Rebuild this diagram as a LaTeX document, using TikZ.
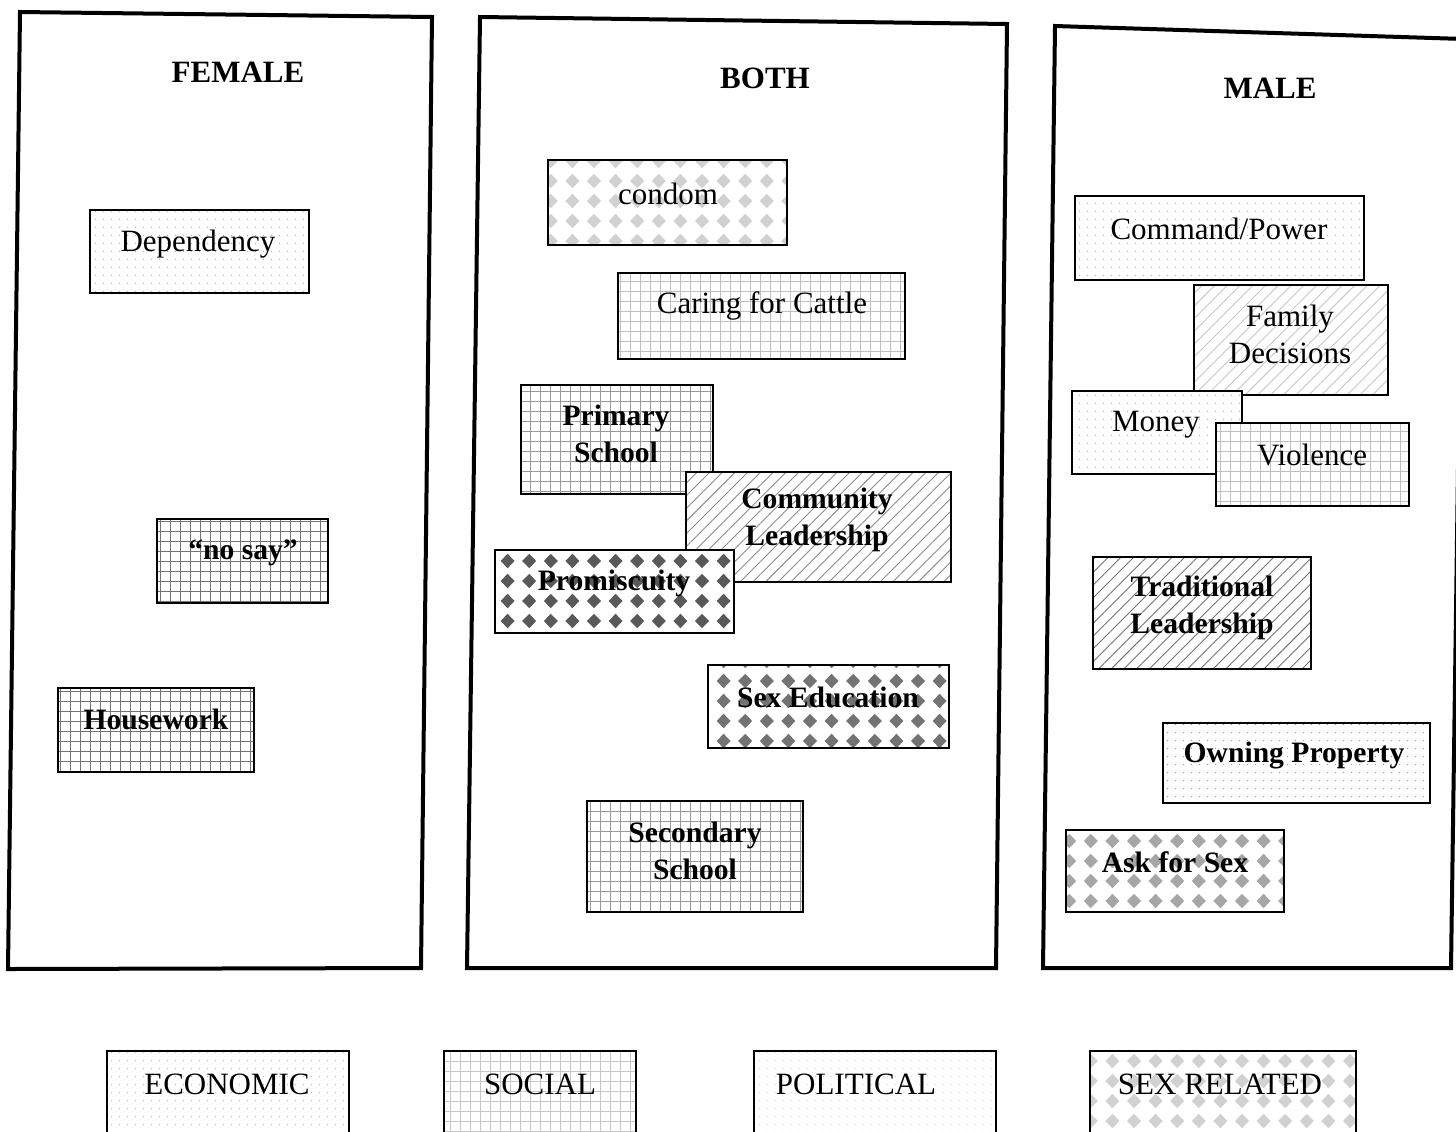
\documentclass[tikz,border=0pt]{standalone}
\usepackage{fontspec}
\setmainfont{Liberation Serif}
\usetikzlibrary{patterns,patterns.meta}

% diamond tiling used for the sex-related category
\pgfdeclarepatternformonly{diamonds}{\pgfqpoint{-1pt}{-1pt}}{\pgfqpoint{12pt}{11pt}}{\pgfqpoint{10.8pt}{10pt}}{%
  \pgfpathmoveto{\pgfqpoint{5.4pt}{1.4pt}}%
  \pgfpathlineto{\pgfqpoint{8.9pt}{5pt}}%
  \pgfpathlineto{\pgfqpoint{5.4pt}{8.6pt}}%
  \pgfpathlineto{\pgfqpoint{1.9pt}{5pt}}%
  \pgfpathclose
  \pgfusepath{fill}%
}

\tikzset{
  panel/.style={line width=2pt, line join=miter},
  heading/.style={font=\fontsize{15.5}{18}\selectfont\bfseries, inner sep=0pt},
  txt/.style={font=\fontsize{15.5}{18.5}\selectfont, align=center, inner sep=0pt},
  txtb/.style={font=\fontsize{14.8}{18.5}\selectfont\bfseries, align=center, inner sep=0pt},
  ibox/.style={draw, line width=1.2pt, inner sep=0pt, preaction={fill=white}},
  econ/.style={ibox, pattern={Dots[distance=4pt,radius=0.35pt]}, pattern color=#1},
  econ/.default=black!35,
  social/.style={ibox, pattern={Hatch[distance=5pt,line width=0.35pt]}, pattern color=#1},
  social/.default=black!40,
  political/.style={ibox, pattern={Lines[angle=45,distance=4.5pt,line width=0.45pt]}, pattern color=#1},
  political/.default=black!45,
  sexrel/.style={ibox, pattern=diamonds, pattern color=#1},
  sexrel/.default=black!55,
  legendbox/.style={line width=1pt},
}

% box from its corner coordinates: name, style, x1, y1, x2, y2
\newcommand\catbox[6]{%
  \pgfmathsetmacro\cbw{(#5-#3)*0.5}%
  \pgfmathsetmacro\cbh{(#6-#4)*0.5}%
  \pgfmathsetmacro\cbx{(#3+#5)/2}%
  \pgfmathsetmacro\cby{(#4+#6)/2}%
  \node[#2, minimum width=\cbw pt, minimum height=\cbh pt] (#1) at (\cbx,\cby) {};%
}

\begin{document}
\begin{tikzpicture}[x=0.5pt, y=-0.5pt]
\useasboundingbox (0,0) rectangle (1456,1131);
\clip (0,0) rectangle (1456,1131);

% the three columns
\draw[panel] (20,12) -- (432,17) -- (421,968) -- (8,969) -- cycle;
\draw[panel] (480,17) -- (1007,24) -- (996,968) -- (467,968) -- cycle;
\draw[panel] (1464,39) -- (1055,26) -- (1043,968) -- (1451,968) -- (1464,39);

\node[heading] (hf) at (238,72) {FEMALE};
\node[heading] (hb) at (765,78) {BOTH};
\node[heading] (hm) at (1270,88) {MALE};

% FEMALE
\catbox{dep}{econ}{90}{210}{309}{293}
\node[txt] (dept) at (198,244) {Dependency};
\catbox{nosay}{social=black!55}{157}{519}{328}{603}
\node[txtb] (nosayt) at (243,553) {``no say''};
\catbox{house}{social=black!55}{58}{688}{254}{772}
\node[txtb] (houset) at (156,719) {Housework};

% BOTH
\catbox{cond}{sexrel=black!18}{548}{160}{787}{245}
\node[txt] (condt) at (668,194) {condom};
\catbox{cattle}{social=black!25}{618}{273}{905}{359}
\node[txt] (cattlet) at (762,306) {Caring for Cattle};
\catbox{prim}{social=black!40}{521}{385}{713}{494}
\node[txtb] (primt) at (616,434) {Primary\\School};
\catbox{comm}{political=black!45}{686}{472}{951}{582}
\node[txtb] (commt) at (817,520) {Community\\Leadership};
\catbox{prom}{sexrel=black!65}{495}{550}{734}{633}
\node[txtb] (promt) at (614,583) {Promiscuity};
\catbox{sexed}{sexrel=black!55}{708}{665}{949}{748}
\node[txtb] (sexedt) at (828,697) {Sex Education};
\catbox{sec}{social=black!40}{587}{801}{803}{912}
\node[txtb] (sect) at (695,851) {Secondary\\School};

% MALE
\catbox{cmd}{econ}{1075}{196}{1364}{280}
\node[txt] (cmdt) at (1219,229) {Command/Power};
\catbox{fam}{political=black!22}{1194}{285}{1388}{395}
\node[txt] (famt) at (1290,334) {Family\\Decisions};
\catbox{money}{econ}{1072}{391}{1242}{474}
\node[txt] (moneyt) at (1156,425) {Money};
\catbox{viol}{social=black!25}{1216}{423}{1409}{506}
\node[txt] (violt) at (1312,455) {Violence};
\catbox{trad}{political=black!55}{1093}{557}{1311}{669}
\node[txtb] (tradt) at (1202,608) {Traditional\\Leadership};
\catbox{own}{econ=black!45}{1163}{723}{1430}{803}
\node[txtb] (ownt) at (1294,755) {Owning Property};
\catbox{ask}{sexrel=black!35}{1066}{830}{1284}{912}
\node[txtb] (askt) at (1175,862) {Ask for Sex};

% key to the four categories
\catbox{keyecon}{econ=black!30, legendbox}{107}{1051}{349}{1160}
\node[txt] (keyecont) at (227,1084) {ECONOMIC};
\catbox{keysoc}{social=black!22, legendbox}{444}{1051}{636}{1160}
\node[txt] (keysoct) at (540,1084) {SOCIAL};
\catbox{keypol}{econ=black!18, legendbox}{754}{1051}{996}{1160}
\node[txt] (keypolt) at (856,1084) {POLITICAL};
\catbox{keysex}{sexrel=black!18, legendbox}{1090}{1051}{1356}{1160}
\node[txt] (keysext) at (1220,1084) {SEX RELATED};
\end{tikzpicture}
\end{document}
